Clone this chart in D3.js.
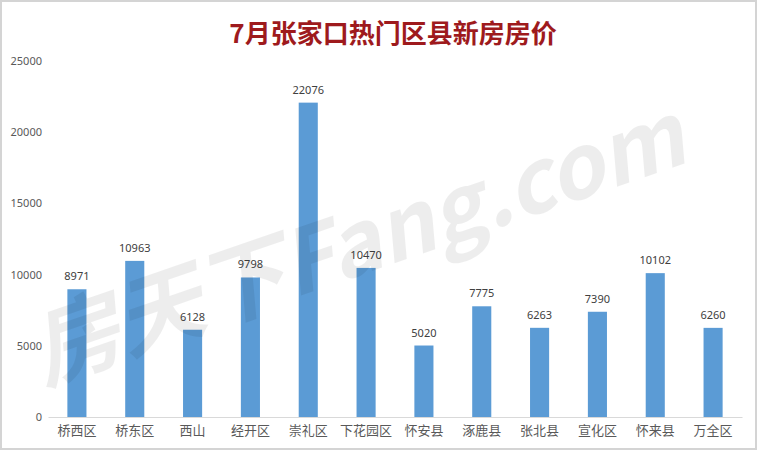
<!DOCTYPE html>
<html><head><meta charset="utf-8">
<script src="https://cdn.jsdelivr.net/npm/d3@7"></script>
<style>
html,body{margin:0;padding:0;background:#fff;}
svg{display:block;}
</style></head>
<body>
<svg id="c" width="757" height="450"></svg>
<script>
const categories = ["桥西区","桥东区","西山","经开区","崇礼区","下花园区","怀安县","涿鹿县","张北县","宣化区","怀来县","万全区"];
const values = [8971,10963,6128,9798,22076,10470,5020,7775,6263,7390,10102,6260];
const yTicks = [0,5000,10000,15000,20000,25000];
const title = "7月张家口热门区县新房房价";

const svg = d3.select("#c");
const W = 757, H = 450;
const m = {left:48, right:15, top:61, bottom:33};

svg.append("rect").attr("x",1).attr("y",1).attr("width",W-2).attr("height",H-2)
  .attr("fill","#fff").attr("stroke","#d4d4d4").attr("stroke-width",2);

const x = d3.scaleBand().domain(categories).range([m.left, W-m.right]).paddingInner(0.67).paddingOuter(0.335);
const y = d3.scaleLinear().domain([0,25000]).range([H-m.bottom, m.top]);

// title
svg.append("text").attr("x",393).attr("y",43).attr("text-anchor","middle")
  .attr("font-family","'Noto Sans CJK SC', sans-serif").attr("font-weight","bold")
  .attr("font-size",26).attr("fill","#9e1a1d").text(title);

// y axis labels
const yAxis = d3.axisLeft(y).tickValues(yTicks).tickSize(0).tickPadding(0).tickFormat(d3.format("d"));
const ga = svg.append("g").attr("transform",`translate(42,0)`).call(yAxis);
ga.select(".domain").remove();
ga.selectAll("text").attr("font-family","'Noto Sans', sans-serif").attr("font-size",11).attr("fill","#595959");

// bars
svg.append("g").selectAll("rect").data(values).join("rect")
  .attr("x",(d,i)=>x(categories[i])).attr("width",x.bandwidth())
  .attr("y",d=>y(d)).attr("height",d=>y(0)-y(d)).attr("fill","#5b9bd5");

// value labels
svg.append("g").selectAll("text").data(values).join("text")
  .attr("x",(d,i)=>x(categories[i])+x.bandwidth()/2).attr("y",d=>y(d)-9)
  .attr("text-anchor","middle").attr("font-family","'Noto Sans', sans-serif")
  .attr("font-size",11).attr("fill","#404040").text(d=>d);

// x axis
const xAxis = d3.axisBottom(x).tickSize(0).tickPadding(9);
const gx = svg.append("g").attr("transform",`translate(0,${y(0)})`).call(xAxis);
gx.select(".domain").attr("stroke","#d9d9d9");
gx.selectAll("text").attr("font-family","'Noto Sans CJK SC', sans-serif").attr("font-size",13).attr("fill","#595959");

// watermark
svg.append("text").attr("transform","translate(44,384) rotate(-19)")
  .attr("font-family","'Noto Sans CJK SC', sans-serif").attr("font-weight","bold").attr("font-style","italic")
  .attr("font-size",88).attr("fill","#000").attr("fill-opacity",0.07).text("房天下Fang.com");
</script>
</body></html>
